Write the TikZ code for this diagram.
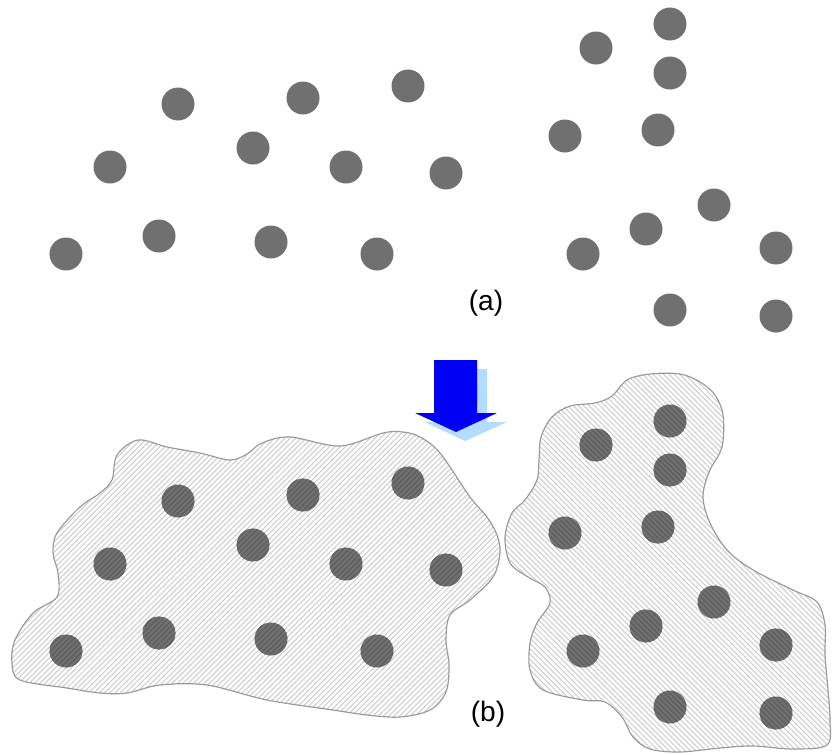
\documentclass[tikz,border=0pt]{standalone}
\usepackage{fontspec}
\setmainfont{Liberation Sans}
\usetikzlibrary{patterns.meta}

\begin{document}
\begin{tikzpicture}[x=0.03cm, y=-0.03cm,
    dot/.style={circle, fill=dotgray, inner sep=0pt, minimum size=0.99cm},
    hatchdot/.style={dot, postaction={pattern={Lines[angle=#1, distance=3.2pt,
                     line width=0.9pt]}, pattern color=stripedark}},
    blobline/.style={draw=outlinegray, line width=1pt},
    hatch/.style={pattern={Lines[angle=#1, distance=3.2pt, line width=0.9pt]},
                  pattern color=stripelight},
    caption/.style={font=\fontsize{24}{28}\selectfont}
]
% Grautoene fuer Punkte, Schraffur und Umrisse, Blau fuer den Pfeil
\definecolor{dotgray}{HTML}{707070}
\definecolor{stripelight}{HTML}{CDCDCD}
\definecolor{stripedark}{HTML}{5C5C5C}
\definecolor{outlinegray}{HTML}{9A9A9A}
\definecolor{arrowblue}{HTML}{0000F5}
\definecolor{arrowshade}{HTML}{B4DCFF}
\useasboundingbox (0,0) rectangle (832,755);

\def\leftblob{plot[smooth cycle, tension=0.55] coordinates {
    (138,440) (167,447) (200,453) (230,460) (247,454) (262,443) (290,437)
    (340,446) (383,433) (403,432) (420,437) (440,453) (470,497) (487,517)
    (497,535) (500,553) (493,577) (470,600) (450,615) (446,640) (449,665)
    (446,692) (430,710) (400,717) (367,715) (333,710) (267,700) (207,685)
    (160,685) (127,693) (100,693) (67,688) (20,680) (12,663) (15,640)
    (33,613) (57,597) (58,573) (53,553) (57,533) (80,507) (100,493)
    (112,480) (117,455)}}
\def\rightblob{plot[smooth cycle, tension=0.55] coordinates {
    (627,380) (650,374) (680,374) (700,382) (715,395) (723,415) (722,447)
    (709,472) (703,497) (710,523) (727,550) (753,570) (793,590) (817,602)
    (825,625) (825,655) (828,690) (830,720) (827,745) (793,749) (753,746)
    (720,748) (680,752) (650,749) (633,737) (622,717) (605,702) (583,700)
    (543,690) (530,670) (530,643) (537,623) (550,603) (545,587) (528,577)
    (510,563) (505,537) (512,513) (525,500) (537,480) (539,460) (541,437)
    (552,417) (570,406) (595,403) (612,396)}}

% schraffierte Cluster
\fill[hatch=45] \leftblob;
\fill[hatch=-45] \rightblob;
\draw[blobline] \leftblob;
\draw[blobline] \rightblob;

% Punkte: oben (a) frei, unten (b) dieselben Punkte in den Clustern
\foreach \x/\y [count=\i] in {178/104, 303/98, 408/86, 110/167, 253/148,
    346/167, 446/173, 66/254, 159/236, 271/242, 377/254} {
  \node[dot] (a\i) at (\x,\y) {};
  \node[hatchdot=45] (b\i) at (\x,\y+397) {};
}
\foreach \x/\y [count=\i from 12] in {670/24, 596/48, 670/73, 565/136,
    658/130, 714/205, 646/229, 583/254, 776/248, 670/310, 776/316} {
  \node[dot] (a\i) at (\x,\y) {};
  \node[hatchdot=-45] (b\i) at (\x,\y+397) {};
}

% Pfeil mit hellblauem Schatten
\fill[arrowshade] (444,369) -- (487,369) -- (487,422) -- (507,422)
    -- (465,441) -- (425,422) -- (444,422) -- cycle;
\fill[arrowblue] (434,360) -- (477,360) -- (477,413) -- (497,413)
    -- (456,432) -- (415,413) -- (434,413) -- cycle;

\node[caption] (capa) at (486,303) {(a)};
\node[caption] (capb) at (488,714) {(b)};
\end{tikzpicture}
\end{document}
